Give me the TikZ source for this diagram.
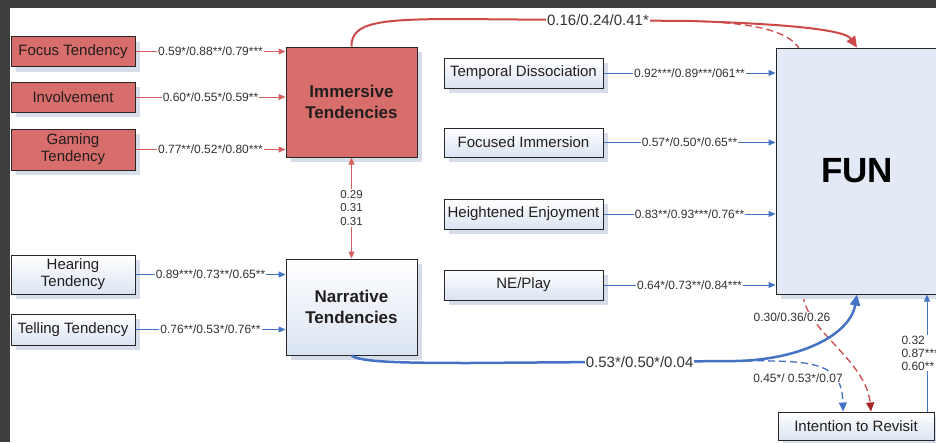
\documentclass[tikz,border=0pt]{standalone}
\usepackage{fontspec}
\setmainfont{Liberation Sans}
\usepackage{xcolor}
\usetikzlibrary{positioning,arrows.meta,shadows,backgrounds}
\definecolor{redfill}{RGB}{216,110,108}
\definecolor{redline}{RGB}{214,96,96}
\definecolor{redcurve}{RGB}{205,72,72}
\definecolor{darkred}{RGB}{165,35,35}
\definecolor{blueline}{RGB}{68,114,196}
\definecolor{boxblue}{RGB}{218,228,242}
\definecolor{funfill}{RGB}{227,234,246}
\definecolor{shadowcol}{RGB}{214,221,233}
\definecolor{boxtext}{RGB}{35,30,30}
\definecolor{lbltext}{RGB}{50,50,50}
\definecolor{framebg}{RGB}{62,62,62}

\begin{document}
\begin{tikzpicture}[x=1pt,y=-1pt,>={Triangle[length=7pt,width=6pt]},
	box/.style={draw=black!85,line width=1pt,minimum width=124pt,inner sep=1pt,align=center,text=boxtext,
		font=\fontsize{15}{17}\selectfont,drop shadow={shadow xshift=5pt,shadow yshift=-5pt,fill=shadowcol,opacity=1}},
	redbox/.style={box,fill=redfill},
	bluebox/.style={box,top color=white,bottom color=boxblue},
	midbox/.style={bluebox,minimum width=159pt,minimum height=30pt},
	big/.style={font=\bfseries\fontsize{17}{21}\selectfont,minimum width=131pt},
	lbl/.style={fill=white,inner sep=1pt,text=lbltext,font=\fontsize{12}{13}\selectfont},
	redarr/.style={->,draw=redline,line width=1pt},
	bluearr/.style={->,draw=blueline,line width=1pt}]
			\useasboundingbox (0,0) rectangle (936,442);
			\clip (0,0) rectangle (936,442);

			% left side
			\node[redbox,minimum height=30pt] (focus) at (73,51.5) {Focus Tendency};
			\node[redbox,minimum height=30pt] (involve) at (73,97) {Involvement};
			\node[redbox,minimum height=41pt] (gaming) at (73,149.5) {Gaming\\Tendency};
			\node[redbox,big,minimum height=110pt] (imm) at (351.5,102) {Immersive\\Tendencies};
			\node[bluebox,minimum height=39pt] (hearing) at (73,274.5) {Hearing\\Tendency};
			\node[bluebox,minimum height=31pt] (telling) at (73,329.5) {Telling Tendency};
			\node[bluebox,big,minimum height=96pt] (narr) at (351.5,307) {Narrative\\Tendencies};

			% right side
			\node[midbox] (temporal) at (523.5,73) {Temporal Dissociation};
			\node[midbox,minimum height=29pt] (focim) at (523.5,142.5) {Focused Immersion};
			\node[midbox] (heighten) at (523.5,214) {Heightened Enjoyment};
			\node[midbox] (neplay) at (523.5,285) {NE/Play};
			\node[box,fill=funfill,minimum width=162pt,minimum height=246pt,font=\bfseries\fontsize{35}{40}\selectfont,text=black] (fun) at (857,171) {FUN};
			\node[bluebox,minimum width=156pt,minimum height=28pt] (intent) at (856,426) {Intention to Revisit};

			\coordinate (rd) at (690,21);
			\coordinate (bd) at (735,361);

			\begin{pgfonlayer}{background}
			\fill[framebg] (0,0) rectangle (936,442);
			\fill[white] (10,8) rectangle (936,442);
			\draw[redcurve,line width=1.3pt,dash pattern=on 7pt off 4pt,-{Triangle[length=9pt,width=8pt,color=darkred]}]
				(rd) .. controls (760,23) and (800,32) .. (803,60) -- (803,294)
				.. controls (805,330) and (866,360) .. ([xshift=15pt]intent.north);
			\end{pgfonlayer}

			\draw 	(focus) edge[redarr] node[lbl]{0.59*/0.88**/0.79***} (focus -| imm.west)
					(involve) edge[redarr] node[lbl]{0.60*/0.55*/0.59**} (involve -| imm.west)
					(gaming) edge[redarr] node[lbl]{0.77**/0.52*/0.80***} (gaming -| imm.west)
					(imm) edge[redarr,<->] node[lbl,align=center,font=\fontsize{11.5}{13.5}\selectfont]{0.29\\0.31\\0.31} (narr)
					(hearing) edge[bluearr] node[lbl]{0.89***/0.73**/0.65**} (hearing -| narr.west)
					(telling) edge[bluearr] node[lbl]{0.76**/0.53*/0.76**} (telling -| narr.west)
					(temporal) edge[bluearr] node[lbl]{0.92***/0.89***/061**} (temporal -| fun.west)
					(focim) edge[bluearr] node[lbl]{0.57*/0.50*/0.65**} (focim -| fun.west)
					(heighten) edge[bluearr] node[lbl]{0.83**/0.93***/0.76**} (heighten -| fun.west)
					(neplay) edge[bluearr] node[lbl]{0.64*/0.73**/0.84***} (neplay -| fun.west);

			\draw[redcurve,line width=2pt,-{Triangle[length=11pt,width=10pt]}]
				(imm.north) .. controls (351,22) and (380,19) .. (460,19)
				-- node[lbl,pos=0.6,font=\fontsize{15}{16}\selectfont]{0.16/0.24/0.41*} (rd)
				.. controls (790,24) and (845,30) .. (fun.north);
			\draw[blueline,line width=2.5pt,-{Triangle[length=11pt,width=10pt]}]
				(narr.south) .. controls (360,362) and (400,363) .. (470,363)
				-- node[lbl,pos=0.64,font=\fontsize{15}{16}\selectfont]{0.53*/0.50*/0.04} (bd)
				.. controls (800,360) and (850,335) .. (fun.south);
			\draw[blueline,line width=1.3pt,dash pattern=on 7pt off 4pt,-{Triangle[length=9pt,width=8pt]}]
				(bd) .. controls (815,360) and (842,362) .. ([xshift=-13pt]intent.north)
				node[lbl] at (798,378) {0.45*/ 0.53*/0.07};
			\node[lbl] (fivelbl) at (792,317) {0.30/0.36/0.26};
			\draw[bluearr] ([xshift=71pt]intent.north) -- node[lbl,align=left,anchor=west,xshift=-27pt]{0.32\\0.87***\\0.60**} ([xshift=71pt]intent.north |- fun.south);
			\end{tikzpicture}
\end{document}
